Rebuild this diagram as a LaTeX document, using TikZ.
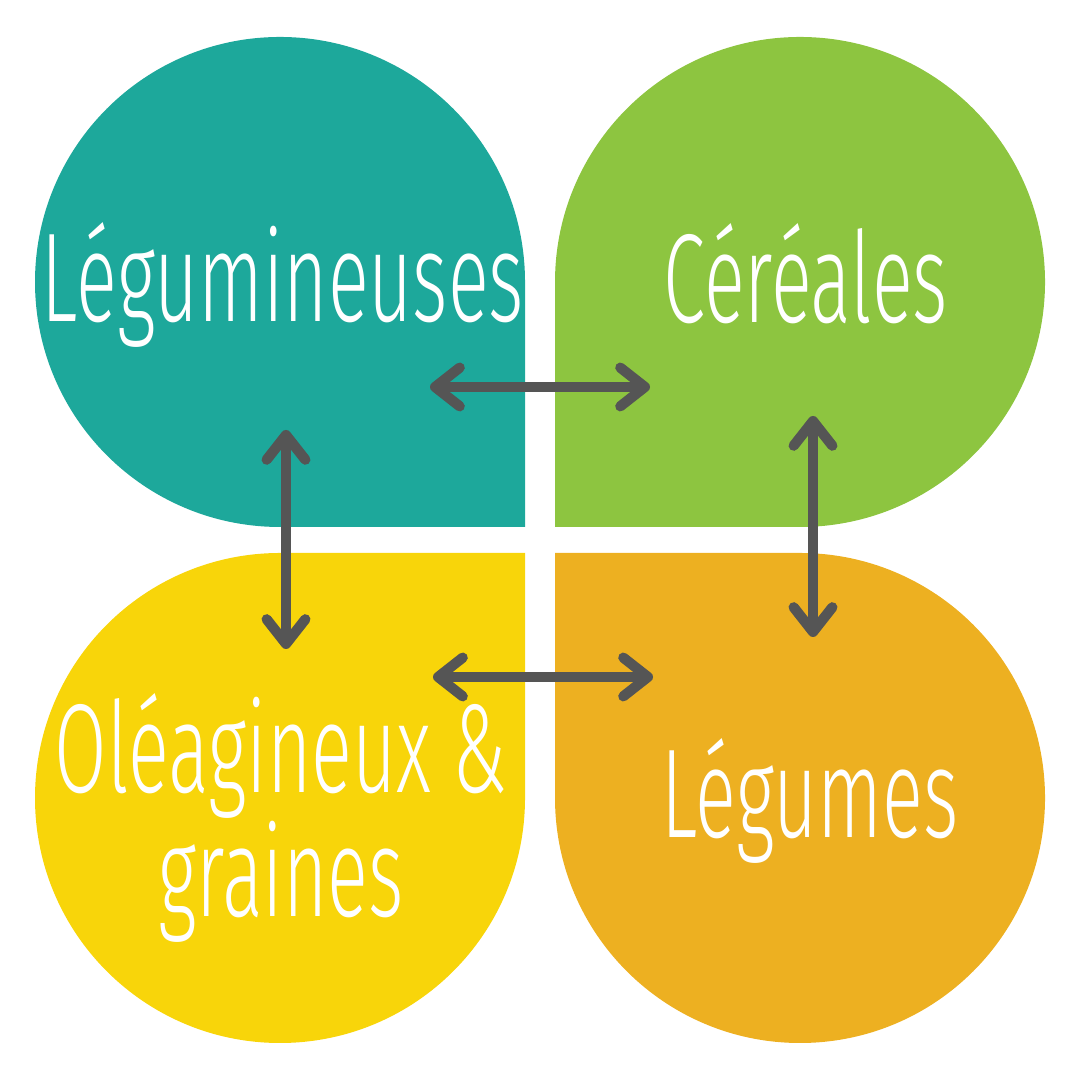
\documentclass[tikz,border=0pt]{standalone}
\usepackage{fontspec}
\setmainfont{Fira Sans}[UprightFont=* Light, FakeStretch=0.6]
\usepackage{tikz}
\usetikzlibrary{arrows.meta, calc}
\definecolor{petaleteal}{HTML}{1DA89B}
\definecolor{petalevert}{HTML}{8DC540}
\definecolor{petalejaune}{HTML}{F8D50A}
\definecolor{petaleorange}{HTML}{EDB021}
\definecolor{flechegris}{HTML}{555555}
% petale: couleur, centre x, centre y, angle du coin carre
\newcommand{\petale}[4]{%
  \fill[#1] (#2,#3) ++(#4+45:245) arc[start angle=#4+45, delta angle=270, radius=245]
    -- ($(#2,#3)+(#4:346.5)$) -- cycle;
}
\begin{document}
\begin{tikzpicture}[
  x=0.01cm, y=0.01cm,
  label/.style={text=white, font=\fontsize{36}{29.6}\selectfont, inner sep=0pt,
                anchor=base, align=center},
  lien/.style={{Straight Barb[length=7pt, width=11pt, line cap=round, line join=round]}-{Straight Barb[length=7pt, width=11pt, line cap=round, line join=round]},
               line width=2.9pt, flechegris, line cap=round}
]
\useasboundingbox (0,0) rectangle (1080,1080);

% les quatre petales
\petale{petaleteal}{280}{798}{-45}
\petale{petalevert}{800}{798}{-135}
\petale{petalejaune}{280}{282}{45}
\petale{petaleorange}{800}{282}{135}

% textes
\node[label] (legumineuses) at (283,758) {Légumineuses};
\node[label] (cereales) at (806,757) {Céréales};
\node[label] (legumes) at (810,242) {Légumes};
\node[label] (oleagineux) at (281,163) {Oléagineux \&\\graines};

% extremites des fleches
\coordinate (h1) at (430,693);
\coordinate (h2) at (650,693);
\coordinate (b1) at (433,403);
\coordinate (b2) at (653,403);
\coordinate (g1) at (286,650);
\coordinate (g2) at (286,431);
\coordinate (d1) at (813,664);
\coordinate (d2) at (813,443);

\draw[lien] (h1) -- (h2);
\draw[lien] (b1) -- (b2);
\draw[lien] (g1) -- (g2);
\draw[lien] (d1) -- (d2);

\end{tikzpicture}
\end{document}
